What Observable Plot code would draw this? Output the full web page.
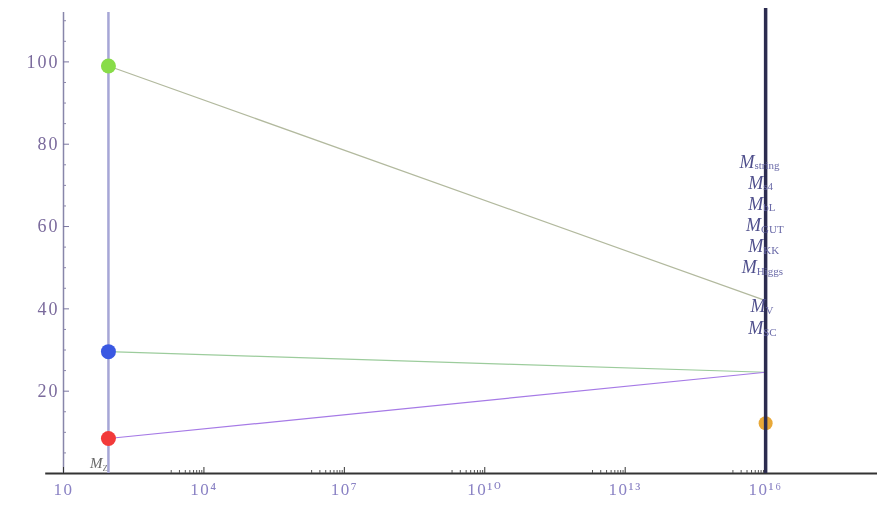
<!DOCTYPE html>
<html><head><meta charset="utf-8">
<script src="https://cdn.jsdelivr.net/npm/d3@7"></script>
<script src="https://cdn.jsdelivr.net/npm/@observablehq/plot@0.6"></script>
<style>
body{margin:0;background:#fff}
#chart svg{filter:blur(0.45px)}
#chart g[aria-label="y-axis tick label"] text{letter-spacing:2px}
#chart g[aria-label="x-axis tick label"] text{letter-spacing:1.5px}
</style>
</head><body><div id="chart"></div>
<script>
// ---- data ----
const scaleMZ = 91.19;
const scaleHigh = 1e16;
const couplingNames = ["alpha1", "alpha2", "alpha3"];
const lowValues = [99, 29.6, 8.5];
const highValues = [42, 24.6, 24.6];
const lineColors = ["#b2b99e", "#9ccc9c", "#a67ae6"];
const dotColors = ["#88dc48", "#3a58e2", "#f23a3a"];
const orangeValue = [12.2];
const scaleLabels = ["string", "s4", "bL", "GUT", "KK", "Higgs", "V", "SC"];
const scaleLabelValues = [75.7, 70.6, 65.5, 60.3, 55.2, 50.1, 40.6, 35.3];
const mzLabel = ["Z"];
const mzLabelValue = [2.4];
const yTicks = [20, 40, 60, 80, 100];
const yMinorTicks = [5,10,15,25,30,35,45,50,55,65,70,75,85,90,95,105,110];
const xTickExps = [1, 4, 7, 10, 13, 16];
const xTickLabels = ["10", "10⁴", "10⁷", "10¹⁰", "10¹³", "10¹⁶"];
const xMinorExps = [3, 6, 9, 12, 15];
const xMinorMults = [2, 3, 4, 5, 6, 7, 8, 9];
const xMax = 10 ** 18.39;
const yMax = 112;

// ---- build ----
const lines = couplingNames.map((n, i) => ({
  name: n, x1: scaleMZ, y1: lowValues[i], x2: scaleHigh, y2: highValues[i],
  color: lineColors[i], dot: dotColors[i]
}));
const xMajor = xTickExps.map(e => 10 ** e);
const xMinor = xMinorExps.flatMap(e => xMinorMults.map(k => k * 10 ** e));
const fmtX = d => xTickLabels[xTickExps.indexOf(Math.round(Math.log10(d)))];

const serif = "Liberation Serif, DejaVu Serif, serif";
const labelMarks = scaleLabels.flatMap((s, i) => {
  const off = 2 - 2.2 * s.length;
  return [
    Plot.text([scaleLabelValues[i]], {x: () => scaleHigh, y: d => d, text: () => "M",
      textAnchor: "end", dx: off, fontSize: 18, fontStyle: "italic", fontFamily: serif, fill: "#4f4f8c"}),
    Plot.text([scaleLabelValues[i]], {x: () => scaleHigh, y: d => d, text: () => s,
      textAnchor: "start", dx: off, dy: 4, fontSize: 11, fontFamily: serif, fill: "#6a6aa8"})
  ];
});

const chart = Plot.plot({
  width: 881, height: 507,
  marginLeft: 63, marginRight: 4, marginTop: 12, marginBottom: 34,
  x: {type: "log", domain: [10, xMax], label: null},
  y: {domain: [0, yMax], label: null},
  color: {type: "identity"},
  style: {background: "#fff"},
  marks: [
    // M_Z label (partly hidden)
    Plot.text(mzLabelValue, {x: () => scaleMZ, y: d => d, text: () => "M", textAnchor: "end", dx: -6,
      fontSize: 15, fontStyle: "italic", fontFamily: serif, fill: "#666"}),
    Plot.text(mzLabelValue, {x: () => scaleMZ, y: d => d, text: () => mzLabel[0], textAnchor: "start", dx: -6, dy: 4,
      fontSize: 9, fontFamily: serif, fill: "#777"}),
    // axes lines
    Plot.ruleY([0], {x1: 10 ** 0.62, x2: xMax, stroke: "#333", strokeWidth: 2}),
    Plot.ruleX([10], {y1: 0, y2: yMax, stroke: "#8886aa", strokeWidth: 1.5}),
    // y ticks
    Plot.axisY(yTicks, {tickSize: -6, tickFormat: () => "", stroke: "#7a76a0"}),
    Plot.axisY(yMinorTicks, {tickSize: -3, tickFormat: () => "", stroke: "#8a86aa"}),
    Plot.axisY(yTicks, {tickSize: 0, tickPadding: 4, fontSize: 18, fontFamily: serif, fill: "#7a6a9c", stroke: null}),
    // x ticks
    Plot.axisX(xMajor, {tickSize: -6, tickFormat: () => "", stroke: "#333"}),
    Plot.axisX(xMinor, {tickSize: -3, tickFormat: () => "", stroke: "#555"}),
    Plot.axisX(xMajor, {tickSize: 0, tickPadding: 9, tickFormat: fmtX, fontSize: 17, fontFamily: serif, fill: "#8a82c4"}),
    // M_Z vertical line
    Plot.ruleX([scaleMZ], {y1: 0, y2: yMax, stroke: "#a6a6d6", strokeWidth: 2.5}),
    // running couplings
    Plot.link(lines, {x1: "x1", y1: "y1", x2: "x2", y2: "y2", stroke: "color", strokeWidth: 1.2}),
    Plot.dot(orangeValue, {x: () => scaleHigh, y: d => d, fill: "#e8a838", r: 7}),
    // high scale line
    Plot.ruleX([scaleHigh], {y1: 0, y2: yMax + 1, stroke: "#2c2c50", strokeWidth: 3.5}),
    Plot.dot(lines, {x: "x1", y: "y1", fill: "dot", r: 7.5}),
    ...labelMarks
  ]
});
document.getElementById("chart").append(chart);
</script>
</body></html>
